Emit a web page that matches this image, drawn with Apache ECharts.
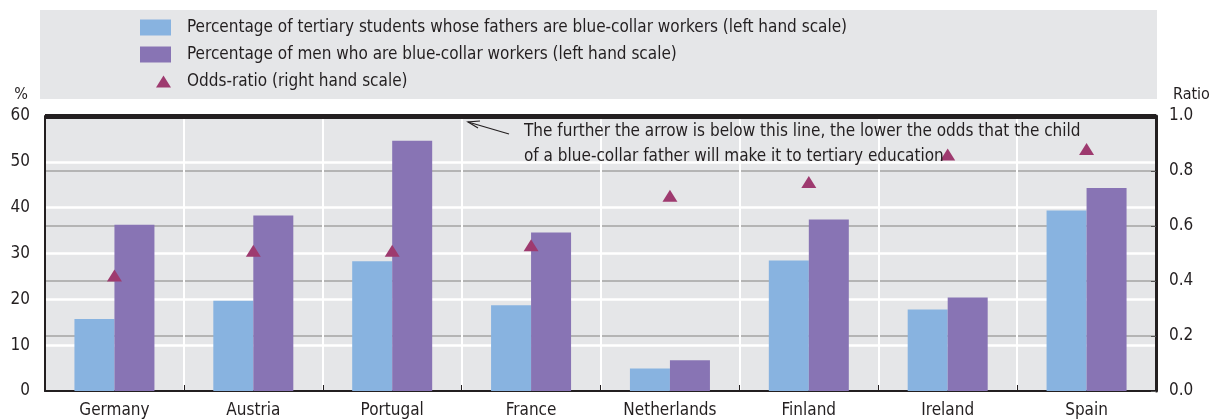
<!DOCTYPE html>
<html>
<head>
<meta charset="utf-8">
<script src="https://cdn.jsdelivr.net/npm/echarts@6/dist/echarts.min.js"></script>
<style>
  html, body { margin: 0; padding: 0; background: #fff; }
  #chart { width: 1215px; height: 419px; }
</style>
</head>
<body>
<div id="chart"></div>
<script>
var countries = ['Germany', 'Austria', 'Portugal', 'France', 'Netherlands', 'Finland', 'Ireland', 'Spain'];
var studentsBlueCollar = [15.7, 19.7, 28.3, 18.7, 4.9, 28.5, 17.8, 39.4];
var menBlueCollar = [36.3, 38.3, 54.6, 34.6, 6.7, 37.4, 20.4, 44.3];
var oddsRatio = [0.42, 0.51, 0.51, 0.53, 0.71, 0.76, 0.86, 0.88];

var seriesNames = [
    'Percentage of tertiary students whose fathers are blue-collar workers (left hand scale)',
    'Percentage of men who are blue-collar workers (left hand scale)',
    'Odds-ratio (right hand scale)'
];

var font = "'Liberation Sans Narrow', 'DejaVu Sans Condensed', sans-serif";
var ink = '#231f20';

var myChart = echarts.init(document.getElementById('chart'));

function legendRow(name, top, left, w, h, icon) {
    return {
        data: [name],
        left: left,
        top: top,
        padding: 0,
        icon: icon,
        itemWidth: w,
        itemHeight: h,
        selectedMode: false,
        textStyle: {
            fontFamily: font,
            fontSize: 17,
            color: ink,
            padding: [0, 0, 0, 11]
        }
    };
}

option = {
    animation: false,
    backgroundColor: '#fff',
    textStyle: { fontFamily: font },
    legend: [
        legendRow(seriesNames[0], 19, 140, 31, 16, 'rect'),
        legendRow(seriesNames[1], 46, 140, 31, 16, 'rect'),
        legendRow(seriesNames[2], 73, 156, 15, 12, 'triangle')
    ],
    graphic: [{
        type: 'rect',
        z: -10,
        shape: { x: 40, y: 10, width: 1117, height: 89 },
        style: { fill: '#e5e6e8' }
    }, {
        type: 'text',
        z: 100,
        style: {
            x: 524,
            y: 119,
            text: 'The further the arrow is below this line, the lower the odds that the child\nof a blue-collar father will make it to tertiary education',
            fontFamily: font,
            fontSize: 17,
            fill: ink,
            lineHeight: 25
        }
    }, {
        type: 'polyline',
        z: 100,
        shape: { points: [[509, 134], [468, 122]] },
        style: { stroke: ink, lineWidth: 1.2, fill: null }
    }, {
        type: 'polyline',
        z: 100,
        shape: { points: [[480, 121], [468, 122], [478, 128]] },
        style: { stroke: ink, lineWidth: 1.2, fill: null }
    }],
    grid: {
        left: 45,
        right: 59,
        top: 116,
        height: 276,
        show: true,
        backgroundColor: '#e5e6e8',
        borderWidth: 0
    },
    xAxis: {
        type: 'category',
        data: countries,
        axisLine: { lineStyle: { color: ink, width: 2 } },
        axisTick: { show: true, inside: true, length: 6, lineStyle: { color: ink, width: 1 } },
        splitLine: { show: true, lineStyle: { color: '#ffffff', width: 2 } },
        axisLabel: { fontFamily: font, fontSize: 17, color: ink, margin: 11 }
    },
    yAxis: [{
        type: 'value',
        min: 0,
        max: 60,
        interval: 10,
        name: '%',
        nameLocation: 'end',
        nameGap: 21,
        nameTextStyle: { fontFamily: font, fontSize: 16, color: ink, align: 'right', verticalAlign: 'middle', padding: [0, 17, 0, 0] },
        axisLine: { show: true, lineStyle: { color: ink, width: 2 } },
        axisTick: { show: false },
        splitLine: { show: true, lineStyle: { color: '#ffffff', width: 2.5 } },
        axisLabel: { fontFamily: font, fontSize: 17, color: ink, margin: 15 }
    }, {
        type: 'value',
        min: 0,
        max: 1,
        interval: 0.2,
        position: 'right',
        name: 'Ratio',
        nameLocation: 'end',
        nameGap: 21,
        nameTextStyle: { fontFamily: font, fontSize: 16, color: ink, align: 'left', verticalAlign: 'middle', padding: [0, 0, 0, 17] },
        axisLine: { show: true, lineStyle: { color: ink, width: 3 } },
        axisTick: { show: true, inside: true, length: 5, lineStyle: { color: '#555', width: 1 } },
        splitLine: { show: true, lineStyle: { color: '#a3a3a3', width: 1.5 } },
        axisLabel: {
            fontFamily: font, fontSize: 17, color: ink, margin: 13,
            formatter: function (v) { return v.toFixed(1); }
        }
    }],
    series: [{
        name: seriesNames[0],
        type: 'bar',
        barWidth: 40,
        barGap: '0%',
        itemStyle: { color: '#88b3e0' },
        data: studentsBlueCollar
    }, {
        name: seriesNames[1],
        type: 'bar',
        barWidth: 40,
        barGap: '0%',
        itemStyle: { color: '#8874b4' },
        data: menBlueCollar
    }, {
        name: seriesNames[2],
        type: 'scatter',
        yAxisIndex: 1,
        symbol: 'triangle',
        symbolSize: [15, 12],
        itemStyle: { color: '#9e3a6f', opacity: 1 },
        data: oddsRatio,
        z: 5,
        markLine: {
            silent: true,
            symbol: 'none',
            label: { show: false },
            lineStyle: { color: ink, width: 5, type: 'solid' },
            data: [{ yAxis: 1 }]
        }
    }]
};

myChart.setOption(option);
</script>
</body>
</html>
